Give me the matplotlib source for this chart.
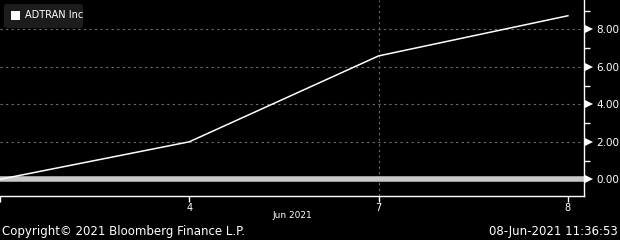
import numpy as np
import matplotlib.pyplot as plt
from matplotlib.patches import FancyBboxPatch, Rectangle
import matplotlib.transforms as mtransforms

days = ["3", "4", "7", "8"]
values = [0.0, 2.0, 6.58, 8.72]
yticks = [0, 2, 4, 6, 8]
ytick_labels = ["0.00", "2.00", "4.00", "6.00", "8.00"]
xtick_labels = ["", "4", "7", "8"]

x = np.arange(len(days))

W, H = 620, 240
fig = plt.figure(figsize=(6.2, 2.4), dpi=100, facecolor="black")
ax = fig.add_axes([0, 44 / H, 584 / W, 196 / H])
ax.set_facecolor("black")

ax.set_xlim(0, 3.085)
ax.set_ylim(-0.89, 9.56)

# grid
for v in yticks[1:]:
    ax.axhline(v, color="#6e6e6e", lw=0.8, ls=(0, (2, 3)), zorder=1)
ax.axvline(2, color="#6e6e6e", lw=0.8, ls=(0, (2, 3)), zorder=1)
ax.axhline(0, color="#c8c8c8", lw=4, zorder=2)

ax.plot(x, values, color="white", lw=1.1, zorder=3)

for s in ["left", "top"]:
    ax.spines[s].set_visible(False)
for s in ["right", "bottom"]:
    ax.spines[s].set_color("white")
    ax.spines[s].set_linewidth(1)

ax.yaxis.tick_right()
ax.set_yticks(yticks)
ax.set_yticks([1, 3, 5, 7, 9], minor=True)
ax.set_yticklabels(ytick_labels)
ax.tick_params(axis="y", which="major", colors="white", length=0, pad=9, labelsize=7.5)
ax.tick_params(axis="y", which="minor", colors="white", length=4, width=1, direction="out")

ax.set_xticks(x)
ax.set_xticklabels(xtick_labels)
ax.tick_params(axis="x", colors="white", length=4, width=1, direction="out", labelsize=7, pad=1)

# triangles pointing at labels
trans = mtransforms.blended_transform_factory(ax.transAxes, ax.transData)
ax.plot([1.0 + 4.5 / 584] * len(yticks), yticks, marker=">", ls="none", color="white",
        ms=5.5, mew=0, transform=trans, clip_on=False)

fig.text(292 / W, 1 - 216 / H, "Jun 2021", color="white", fontsize=6.5,
         ha="center", va="center")

# legend box
leg = FancyBboxPatch((4 / W, 1 - 28 / H), 79 / W, 24 / H,
                     boxstyle="round,pad=0,rounding_size=0.006",
                     transform=fig.transFigure, facecolor="#1c1c1c", edgecolor="none")
fig.patches.append(leg)
fig.patches.append(Rectangle((11 / W, 1 - 20 / H), 9 / W, 9 / H, transform=fig.transFigure,
                             facecolor="white", edgecolor="none"))
fig.text(25 / W, 1 - 15.5 / H, "ADTRAN Inc", color="white", fontsize=7, va="center")

fig.text(2 / W, 1 - 232 / H, "Copyright\u00a9 2021 Bloomberg Finance L.P.", color="white",
         fontsize=8.5, va="center")
fig.text(618 / W, 1 - 232 / H, "08-Jun-2021 11:36:53", color="white",
         fontsize=8.5, va="center", ha="right")

fig.savefig("out.png", dpi=100, facecolor="black")
